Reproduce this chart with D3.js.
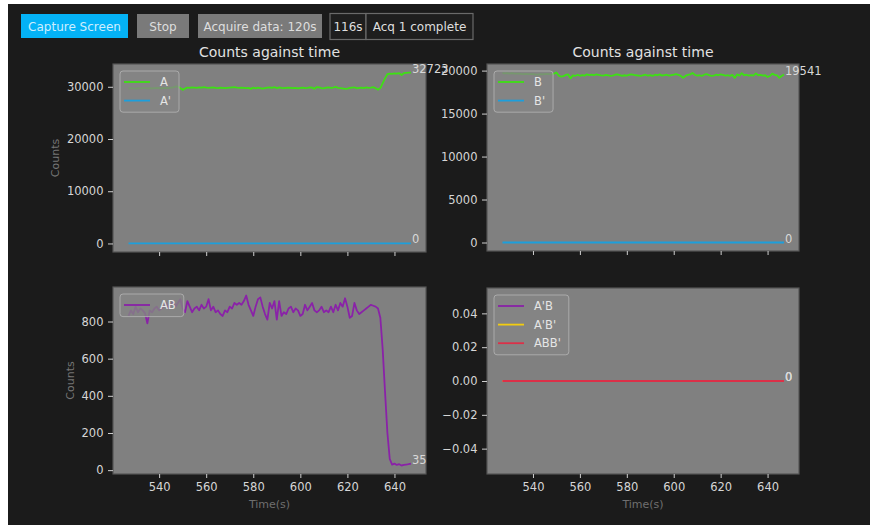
<!DOCTYPE html>
<html>
<head>
<meta charset="utf-8">
<script src="https://cdn.jsdelivr.net/npm/d3@7"></script>
<style>
  body { margin: 0; background: #fff; }
  text { font-family: "DejaVu Sans", sans-serif; }
</style>
</head>
<body>
<svg id="chart" width="870" height="525"></svg>
<script>
// sample times, one per second
let times = [
  527, 528, 529, 530, 531, 532, 533, 534, 535, 536, 537,
  538, 539, 540, 541, 542, 543, 544, 545, 546, 547, 548,
  549, 550, 551, 552, 553, 554, 555, 556, 557, 558, 559,
  560, 561, 562, 563, 564, 565, 566, 567, 568, 569, 570,
  571, 572, 573, 574, 575, 576, 577, 578, 579, 580, 581,
  582, 583, 584, 585, 586, 587, 588, 589, 590, 591, 592,
  593, 594, 595, 596, 597, 598, 599, 600, 601, 602, 603,
  604, 605, 606, 607, 608, 609, 610, 611, 612, 613, 614,
  615, 616, 617, 618, 619, 620, 621, 622, 623, 624, 625,
  626, 627, 628, 629, 630, 631, 632, 633, 634, 635, 636,
  637, 638, 639, 640, 641, 642, 643, 644, 645, 646, 647
];

let countsA = [
  29700, 29750, 29700, 29650, 29750, 29700, 29750, 29800, 29700, 29750, 29700,
  29750, 29800, 29750, 29700, 29750, 29800, 29750, 29850, 29900, 30050, 30000,
  29750, 29400, 29650, 29850, 29800, 29900, 29850, 29800, 29900, 29850, 29950,
  29850, 29800, 29850, 29900, 29800, 29750, 29850, 29800, 29750, 29800, 29850,
  29900, 29950, 29850, 29800, 29850, 29800, 29750, 29800, 29600, 29850, 29700,
  29850, 29750, 29650, 29750, 29850, 29900, 29800, 29950, 29700, 29900, 29800,
  29750, 29800, 29850, 29800, 29750, 29800, 29700, 29800, 29850, 29750, 29800,
  29900, 29850, 29600, 29950, 29900, 29750, 29700, 29850, 29900, 29800, 29850,
  30000, 29800, 29750, 29700, 29600, 29650, 29800, 29850, 29900, 29700, 29800,
  29850, 29750, 29900, 29800, 29850, 29950, 29700, 29450, 29750, 30700, 31600,
  32400, 32500, 32450, 32550, 32500, 32600, 32250, 32600, 32650, 32700, 32723
];

let countsB = [
  19700, 19680, 19700, 19660, 19700, 19650, 19640, 19660, 19620, 19600, 19620,
  19600, 19580, 19600, 19560, 19540, 19580, 19560, 19600, 19620, 19580, 19560,
  19650, 19780, 19400, 19300, 19350, 19500, 19550, 19100, 19450, 19380, 19520,
  19400, 19480, 19420, 19560, 19480, 19520, 19460, 19560, 19500, 19450, 19420,
  19500, 19460, 19380, 19420, 19520, 19560, 19480, 19400, 19460, 19420, 19520,
  19560, 19500, 19460, 19420, 19380, 19460, 19520, 19420, 19480, 19380, 19520,
  19460, 19560, 19420, 19480, 19520, 19420, 19480, 19520, 19580, 19500, 19380,
  19150, 19380, 19500, 19560, 19720, 19520, 19420, 19460, 19380, 19520, 19600,
  19480, 19380, 19420, 19520, 19460, 19560, 19500, 19420, 19460, 19380, 19500,
  19150, 19560, 19420, 19700, 19460, 19520, 19420, 19480, 19420, 19680, 19460,
  19500, 19420, 19460, 19250, 19380, 19650, 19500, 19460, 19150, 19380, 19541
];

let countsAB = [
  830, 860, 840, 880, 850, 870, 860, 845, 790, 860, 850,
  870, 880, 860, 870, 880, 900, 870, 890, 910, 880, 900,
  920, 870, 850, 910, 880, 850, 870, 880, 860, 890, 870,
  880, 920, 860, 880, 850, 860, 840, 830, 860, 850, 880,
  870, 900, 890, 900, 890, 910, 940, 890, 860, 830, 880,
  920, 930, 880, 840, 810, 900, 870, 910, 810, 910, 830,
  850, 840, 870, 880, 850, 870, 860, 830, 840, 890, 860,
  880, 900, 860, 850, 860, 880, 850, 860, 850, 880, 850,
  890, 860, 900, 880, 925, 880, 820, 830, 900, 860, 840,
  850, 860, 870, 880, 890, 885, 880, 870, 820, 650, 420,
  200, 60, 30, 35, 28, 32, 25, 28, 30, 32, 35
];

// the primed channels read zero the whole time
let zeros = [
  0, 0, 0, 0, 0, 0, 0, 0, 0, 0, 0,
  0, 0, 0, 0, 0, 0, 0, 0, 0, 0, 0,
  0, 0, 0, 0, 0, 0, 0, 0, 0, 0, 0,
  0, 0, 0, 0, 0, 0, 0, 0, 0, 0, 0,
  0, 0, 0, 0, 0, 0, 0, 0, 0, 0, 0,
  0, 0, 0, 0, 0, 0, 0, 0, 0, 0, 0,
  0, 0, 0, 0, 0, 0, 0, 0, 0, 0, 0,
  0, 0, 0, 0, 0, 0, 0, 0, 0, 0, 0,
  0, 0, 0, 0, 0, 0, 0, 0, 0, 0, 0,
  0, 0, 0, 0, 0, 0, 0, 0, 0, 0, 0,
  0, 0, 0, 0, 0, 0, 0, 0, 0, 0, 0
];

let xTicks = [540, 560, 580, 600, 620, 640];
let yTicksA = [0, 10000, 20000, 30000];
let yTicksB = [0, 5000, 10000, 15000, 20000];
let yTicksAB = [0, 200, 400, 600, 800];
let yTicksRest = [-0.04, -0.02, 0, 0.02, 0.04];

let green = "#3ee014", blue = "#1c9fdc", purple = "#8a22a8", gold = "#f2cc10", red = "#dc3048";

let svg = d3.select("#chart");

// dark window background (thin white strip left / top like the screenshot)
svg.append("rect").attr("x", 8).attr("y", 4).attr("width", 862).attr("height", 521).attr("fill", "#1b1b1b");

// toolbar
let buttons = [
  { label: "Capture Screen", x: 21, w: 107, fill: "#04b2f6", color: "#cdeeff", border: null },
  { label: "Stop", x: 137, w: 52, fill: "#7a7a7a", color: "#dedede", border: null },
  { label: "Acquire data: 120s", x: 198, w: 124, fill: "#7a7a7a", color: "#dedede", border: null },
  { label: "116s", x: 330, w: 36, fill: "#1e1e1e", color: "#dedede", border: "#6a6a6a" },
  { label: "Acq 1 complete", x: 366, w: 107, fill: "#1e1e1e", color: "#dedede", border: "#6a6a6a" }
];
buttons.forEach(b => {
  let r = svg.append("rect").attr("x", b.x).attr("y", b.border ? 13.5 : 14)
    .attr("width", b.w).attr("height", b.border ? 26 : 24).attr("fill", b.fill);
  if (b.border) r.attr("stroke", b.border).attr("stroke-width", 1.2);
  svg.append("text").attr("x", b.x + b.w / 2).attr("y", 26.5)
    .attr("text-anchor", "middle").attr("dominant-baseline", "central")
    .attr("font-size", 12).attr("fill", b.color).text(b.label);
});

let xDomain = [520.4, 653.4];

let panels = [
  { x: 113, y: 64, w: 313, h: 188, ticks: yTicksA, title: true, ylabel: true, xlabels: false,
    series: [["A", countsA, green], ["A'", zeros, blue]] },
  { x: 487, y: 64, w: 312, h: 187, ticks: yTicksB, title: true, ylabel: false, xlabels: false,
    series: [["B", countsB, green], ["B'", zeros, blue]] },
  { x: 113, y: 287, w: 313, h: 187, ticks: yTicksAB, title: false, ylabel: true, xlabels: true,
    series: [["AB", countsAB, purple]] },
  { x: 487, y: 288, w: 312, h: 186, ticks: yTicksRest, title: false, ylabel: false, xlabels: true,
    series: [["A'B", zeros, purple], ["A'B'", zeros, gold], ["ABB'", zeros, red]], fmt: d3.format(".2f") }
];

panels.forEach(p => {
  let g = svg.append("g");
  let x = d3.scaleLinear().domain(xDomain).range([p.x, p.x + p.w]);

  let all = p.series.flatMap(s => s[1]);
  let lo = d3.min(all), hi = d3.max(all);
  let yDom = lo === hi ? [lo - 0.055, hi + 0.055] : [lo - (hi - lo) * 0.05, hi + (hi - lo) * 0.05];
  let y = d3.scaleLinear().domain(yDom).range([p.y + p.h, p.y]);

  g.append("rect").attr("x", p.x).attr("y", p.y).attr("width", p.w).attr("height", p.h)
    .attr("fill", "#808080").attr("stroke", "#555").attr("stroke-width", 1.2);

  // axes
  let fmt = p.fmt || d3.format("d");
  let yAxis = g.append("g").attr("transform", `translate(${p.x},0)`)
    .call(d3.axisLeft(y).tickValues(p.ticks).tickFormat(fmt).tickSize(5).tickPadding(4.5));
  let xAxis = g.append("g").attr("transform", `translate(0,${p.y + p.h})`)
    .call(d3.axisBottom(x).tickValues(xTicks).tickSize(4).tickPadding(5)
      .tickFormat(p.xlabels ? d3.format("d") : ""));
  [xAxis, yAxis].forEach(a => {
    a.select(".domain").remove();
    a.selectAll("line").attr("stroke", "#cfcfcf").attr("stroke-width", 1);
    a.selectAll("text").attr("fill", "#d6d6d6").attr("font-size", 11.5)
      .attr("font-family", '"DejaVu Sans", sans-serif');
  });

  if (p.title) {
    g.append("text").attr("x", p.x + p.w / 2).attr("y", p.y - 7).attr("text-anchor", "middle")
      .attr("font-size", 14).attr("fill", "#e2e2e2").text("Counts against time");
  }
  if (p.ylabel) {
    let widest = d3.max(yAxis.selectAll("text").nodes(), n => n.getComputedTextLength());
    let lx = p.x - 9.5 - widest - 11;
    g.append("text").attr("transform", `translate(${lx},${p.y + p.h / 2}) rotate(-90)`)
      .attr("text-anchor", "middle").attr("dominant-baseline", "central")
      .attr("font-size", 11).attr("fill", "#767676").text("Counts");
  }
  if (p.xlabels) {
    g.append("text").attr("x", p.x + p.w / 2).attr("y", 508).attr("text-anchor", "middle")
      .attr("font-size", 11).attr("fill", "#6f6f6f").text("Time(s)");
  }

  // lines
  let line = d3.line().x((d, i) => x(times[i])).y(d => y(d));
  p.series.forEach(s => {
    g.append("path").datum(s[1]).attr("d", line).attr("fill", "none")
      .attr("stroke", s[2]).attr("stroke-width", 1.8).attr("stroke-linejoin", "round");
  });

  // last value next to each line
  p.series.forEach(s => {
    let last = s[1][s[1].length - 1];
    g.append("text").attr("x", x(times[times.length - 1]) + 1).attr("y", y(last))
      .attr("font-size", 11.5).attr("fill", "#d8d8d8").text(last);
  });

  // legend
  let lg = g.append("g");
  let box = lg.append("rect").attr("x", p.x + 7).attr("y", p.y + 7).attr("rx", 3)
    .attr("height", p.series.length * 18.6 + 4)
    .attr("fill", "#848484").attr("fill-opacity", 0.8)
    .attr("stroke", "#b4b4b4").attr("stroke-opacity", 0.8);
  let maxW = 0;
  p.series.forEach((s, i) => {
    let ry = p.y + 7 + 11 + i * 18.6;
    lg.append("line").attr("x1", p.x + 11).attr("x2", p.x + 37).attr("y1", ry).attr("y2", ry)
      .attr("stroke", s[2]).attr("stroke-width", 1.8);
    let t = lg.append("text").attr("x", p.x + 47).attr("y", ry).attr("dominant-baseline", "central")
      .attr("font-size", 11.5).attr("fill", "#e6e6e6").text(s[0]);
    maxW = Math.max(maxW, t.node().getComputedTextLength());
  });
  box.attr("width", 40 + maxW + 8);
});
</script>
</body>
</html>
